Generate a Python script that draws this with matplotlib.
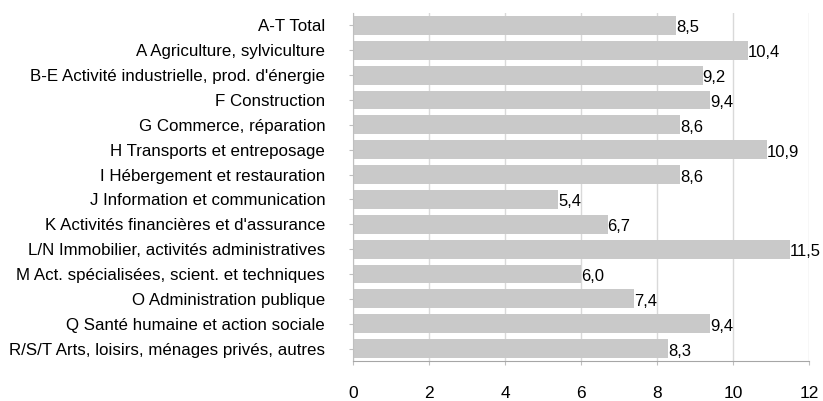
import matplotlib
matplotlib.use("Agg")
import matplotlib.pyplot as plt

categories = [
    "A-T Total",
    "A Agriculture, sylviculture",
    "B-E Activité industrielle, prod. d'énergie",
    "F Construction",
    "G Commerce, réparation",
    "H Transports et entreposage",
    "I Hébergement et restauration",
    "J Information et communication",
    "K Activités financières et d'assurance",
    "L/N Immobilier, activités administratives",
    "M Act. spécialisées, scient. et techniques",
    "O Administration publique",
    "Q Santé humaine et action sociale",
    "R/S/T Arts, loisirs, ménages privés, autres",
]
values = [8.5, 10.4, 9.2, 9.4, 8.6, 10.9, 8.6, 5.4, 6.7, 11.5, 6.0, 7.4, 9.4, 8.3]
xticks = [0, 2, 4, 6, 8, 10, 12]

plt.rcParams['font.family'] = ['Liberation Sans', 'DejaVu Sans']

fig = plt.figure(figsize=(8.23, 4.01), dpi=100)
ax = fig.add_axes([353/823, 1 - 361/401, (809-353)/823, (361-13)/401])

n = len(categories)
ypos = list(range(n))
ax.barh(ypos, values, height=0.76, color="#c9c9c9", zorder=2)
ax.set_ylim(n - 0.5, -0.5)
ax.set_xlim(0, 12)
ax.set_yticks(ypos)
ax.set_yticklabels(categories, fontsize=12.2)
ax.set_xticks(xticks)
ax.set_xticklabels([str(t) for t in xticks], fontsize=12.5)
ax.xaxis.grid(True, color="#d9d9d9", linewidth=1, zorder=0)
ax.set_axisbelow(True)

for s in ["top", "right"]:
    ax.spines[s].set_visible(False)
ax.spines["left"].set_color("#bfbfbf")
ax.spines["bottom"].set_color("#a6a6a6")
ax.tick_params(axis="y", length=3, color="#bfbfbf", pad=17)
ax.tick_params(axis="x", length=3, color="#bfbfbf", pad=15)

for y, v in zip(ypos, values):
    ax.text(v, y + 0.1, f"{v:.1f}".replace(".", ","), va="center", ha="left",
            fontsize=12, zorder=3)

fig.savefig("out.png", dpi=100)
